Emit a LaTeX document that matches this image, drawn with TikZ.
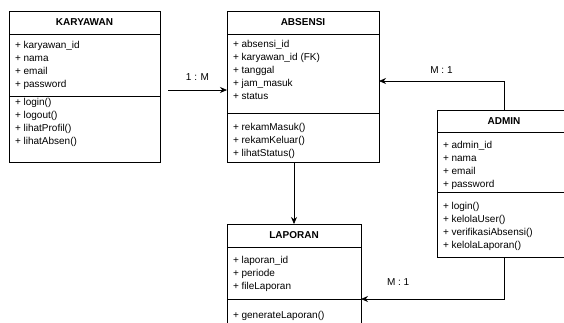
\documentclass[tikz,border=0pt]{standalone}
\usepackage{fontspec}
\setmainfont{Liberation Sans}
\usetikzlibrary{positioning,arrows.meta}
% compartment text: width, height, top gap, lines
\newcommand{\umlbox}[4]{\parbox[t][#2][t]{#1}{\vspace*{#3}\raggedright #4}}

\begin{document}
\begin{tikzpicture}[x=1pt,y=-1pt,line width=0.75pt,
  classname/.style={draw,minimum width=#1,minimum height=23pt,inner sep=0pt,outer sep=0pt,font=\bfseries\fontsize{10}{12}\selectfont},
  members/.style={draw,inner xsep=6pt,inner ysep=0pt,outer sep=0pt,font=\fontsize{10}{13}\selectfont},
  assoc/.style={-{Stealth[length=7pt,width=6pt]}},
  mult/.style={font=\fontsize{10}{12}\selectfont}]
\clip (0,0) rectangle (564,322);
% KARYAWAN
\node[classname=151pt,anchor=north west] (kar) at (9,11) {KARYAWAN};
\node[members,below=0pt of kar] (kar-a) {\umlbox{139pt}{62pt}{7.4pt}{+ karyawan\_id\\+ nama\\+ email\\+ password}};
\node[members,below=0pt of kar-a] (kar-m) {\umlbox{139pt}{66pt}{2.4pt}{+ login()\\+ logout()\\+ lihatProfil()\\+ lihatAbsen()}};
% ABSENSI
\node[classname=152pt,anchor=north west] (abs) at (227,11) {ABSENSI};
\node[members,below=0pt of abs] (abs-a) {\umlbox{140pt}{79pt}{6.4pt}{+ absensi\_id\\+ karyawan\_id (FK)\\+ tanggal\\+ jam\_masuk\\+ status}};
\node[members,below=0pt of abs-a] (abs-m) {\umlbox{140pt}{49pt}{10.4pt}{+ rekamMasuk()\\+ rekamKeluar()\\+ lihatStatus()}};
% LAPORAN
\node[classname=134pt,anchor=north west] (lap) at (227,224) {LAPORAN};
\node[members,below=0pt of lap] (lap-a) {\umlbox{122pt}{52pt}{9.4pt}{+ laporan\_id\\+ periode\\+ fileLaporan}};
\node[members,below=0pt of lap-a] (lap-m) {\umlbox{122pt}{40pt}{12.4pt}{+ generateLaporan()}};
% ADMIN
\node[classname=134pt,minimum height=22pt,anchor=north west] (adm) at (437,110) {ADMIN};
\node[members,below=0pt of adm] (adm-a) {\umlbox{122pt}{60pt}{9.4pt}{+ admin\_id\\+ nama\\+ email\\+ password}};
\node[members,below=0pt of adm-a] (adm-m) {\umlbox{122pt}{65pt}{10.4pt}{+ login()\\+ kelolaUser()\\+ verifikasiAbsensi()\\+ kelolaLaporan()}};
% relations
\coordinate (km) at (168,90);
\draw[assoc] (km) -- node[mult,above=6pt] (km-lbl) {1 : M} (km -| abs-a.west);
\draw[assoc] (adm.north) |- node[mult,pos=0.75,above=4pt] (adm-abs-lbl) {M : 1} ([yshift=-7.5pt]abs-a.east);
\draw[assoc] (abs-m.south -| lap.north) -- (lap.north);
\draw[assoc] (adm-m.south) |- node[mult,pos=0.87,above=10pt] (adm-lap-lbl) {M : 1} (lap-a.south east);
\end{tikzpicture}
\end{document}
